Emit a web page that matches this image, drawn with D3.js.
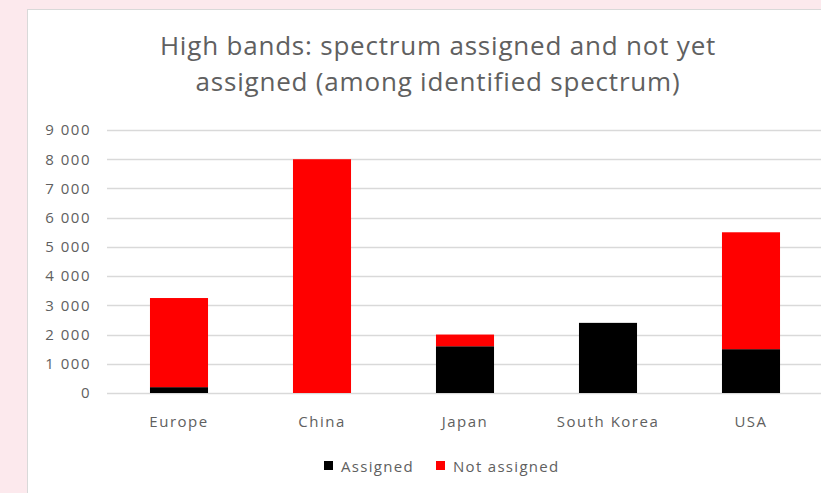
<!DOCTYPE html>
<html>
<head>
<meta charset="utf-8">
<script src="https://cdn.jsdelivr.net/npm/d3@7"></script>
<style>
  body { margin: 0; background: #fce9ed; }
  svg { display: block; }
  text { font-family: "Open Sans", Lato, sans-serif; fill: #606060; }
</style>
</head>
<body>
<div id="chart"></div>
<script>
// data
var countries = ["Europe", "China", "Japan", "South Korea", "USA"];
var assigned = [200, 0, 1600, 2400, 1500];
var notAssigned = [3050, 8000, 400, 0, 4000];
var yTicks = [0, 1000, 2000, 3000, 4000, 5000, 6000, 7000, 8000, 9000];
var seriesNames = ["Assigned", "Not assigned"];
var seriesColors = ["#000000", "#ff0000"];

var W = 821, H = 493;

var svg = d3.select("#chart").append("svg")
    .attr("width", W)
    .attr("height", H);

// white panel
svg.append("rect")
    .attr("x", 27.5).attr("y", 9.5)
    .attr("width", W).attr("height", H)
    .attr("fill", "#fff")
    .attr("stroke", "#d9d9d9");

var x = d3.scaleBand()
    .domain(countries)
    .range([107.5, 822.5])
    .paddingInner(0.594)
    .paddingOuter(0.297);

var y = d3.scaleLinear()
    .domain([0, 9000])
    .range([393, 130]);

var fmt = function(d) { return d3.format(",")(d).replace(",", " "); };

// gridlines
svg.append("g")
    .selectAll("line")
    .data(yTicks)
    .enter().append("line")
    .attr("x1", 107).attr("x2", W)
    .attr("y1", function(d) { return Math.round(y(d)) + 0.5; })
    .attr("y2", function(d) { return Math.round(y(d)) + 0.5; })
    .attr("stroke", "#d9d9d9")
    .attr("stroke-width", 1.5);

// y axis labels
var yAxis = svg.append("g")
    .attr("transform", "translate(99,0)")
    .call(d3.axisLeft(y).tickValues(yTicks).tickFormat(fmt).tickSize(0).tickPadding(8));
yAxis.select(".domain").remove();
yAxis.selectAll("text")
    .style("font-family", "'Open Sans', sans-serif")
    .style("font-size", "15px")
    .style("letter-spacing", "1.5px")
    .attr("fill", "#606060");

// stacked bars
var stackData = countries.map(function(c, i) {
  return {country: c, Assigned: assigned[i], "Not assigned": notAssigned[i]};
});
var stack = d3.stack().keys(seriesNames)(stackData);

svg.append("g")
    .selectAll("g")
    .data(stack)
    .enter().append("g")
    .attr("fill", function(d, i) { return seriesColors[i]; })
    .selectAll("rect")
    .data(function(d) { return d; })
    .enter().append("rect")
    .attr("x", function(d) { return x(d.data.country); })
    .attr("width", x.bandwidth())
    .attr("y", function(d) { return y(d[1]); })
    .attr("height", function(d) { return y(d[0]) - y(d[1]); });

// x axis labels
var xAxis = svg.append("g")
    .attr("transform", "translate(0,393)")
    .call(d3.axisBottom(x).tickSize(0).tickPadding(23));
xAxis.select(".domain").remove();
xAxis.selectAll("text")
    .style("font-family", "'Open Sans', sans-serif")
    .style("font-size", "15px")
    .style("letter-spacing", "1.5px")
    .attr("fill", "#606060");

// title
var title = svg.append("text")
    .attr("text-anchor", "middle")
    .style("font-size", "26px")
    .style("letter-spacing", "0.8px");
title.append("tspan").attr("x", 438).attr("y", 55).text("High bands: spectrum assigned and not yet");
title.append("tspan").attr("x", 438).attr("y", 91).text("assigned (among identified spectrum)");

// legend
var legendX = [324, 436];
var legend = svg.append("g")
    .selectAll("g")
    .data(seriesNames)
    .enter().append("g")
    .attr("transform", function(d, i) { return "translate(" + legendX[i] + ",461)"; });
legend.append("rect")
    .attr("width", 9).attr("height", 9)
    .attr("fill", function(d, i) { return seriesColors[i]; });
legend.append("text")
    .attr("x", 17).attr("y", 10.5)
    .style("font-size", "15px")
    .style("letter-spacing", "1.3px")
    .text(function(d) { return d; });
</script>
</body>
</html>
